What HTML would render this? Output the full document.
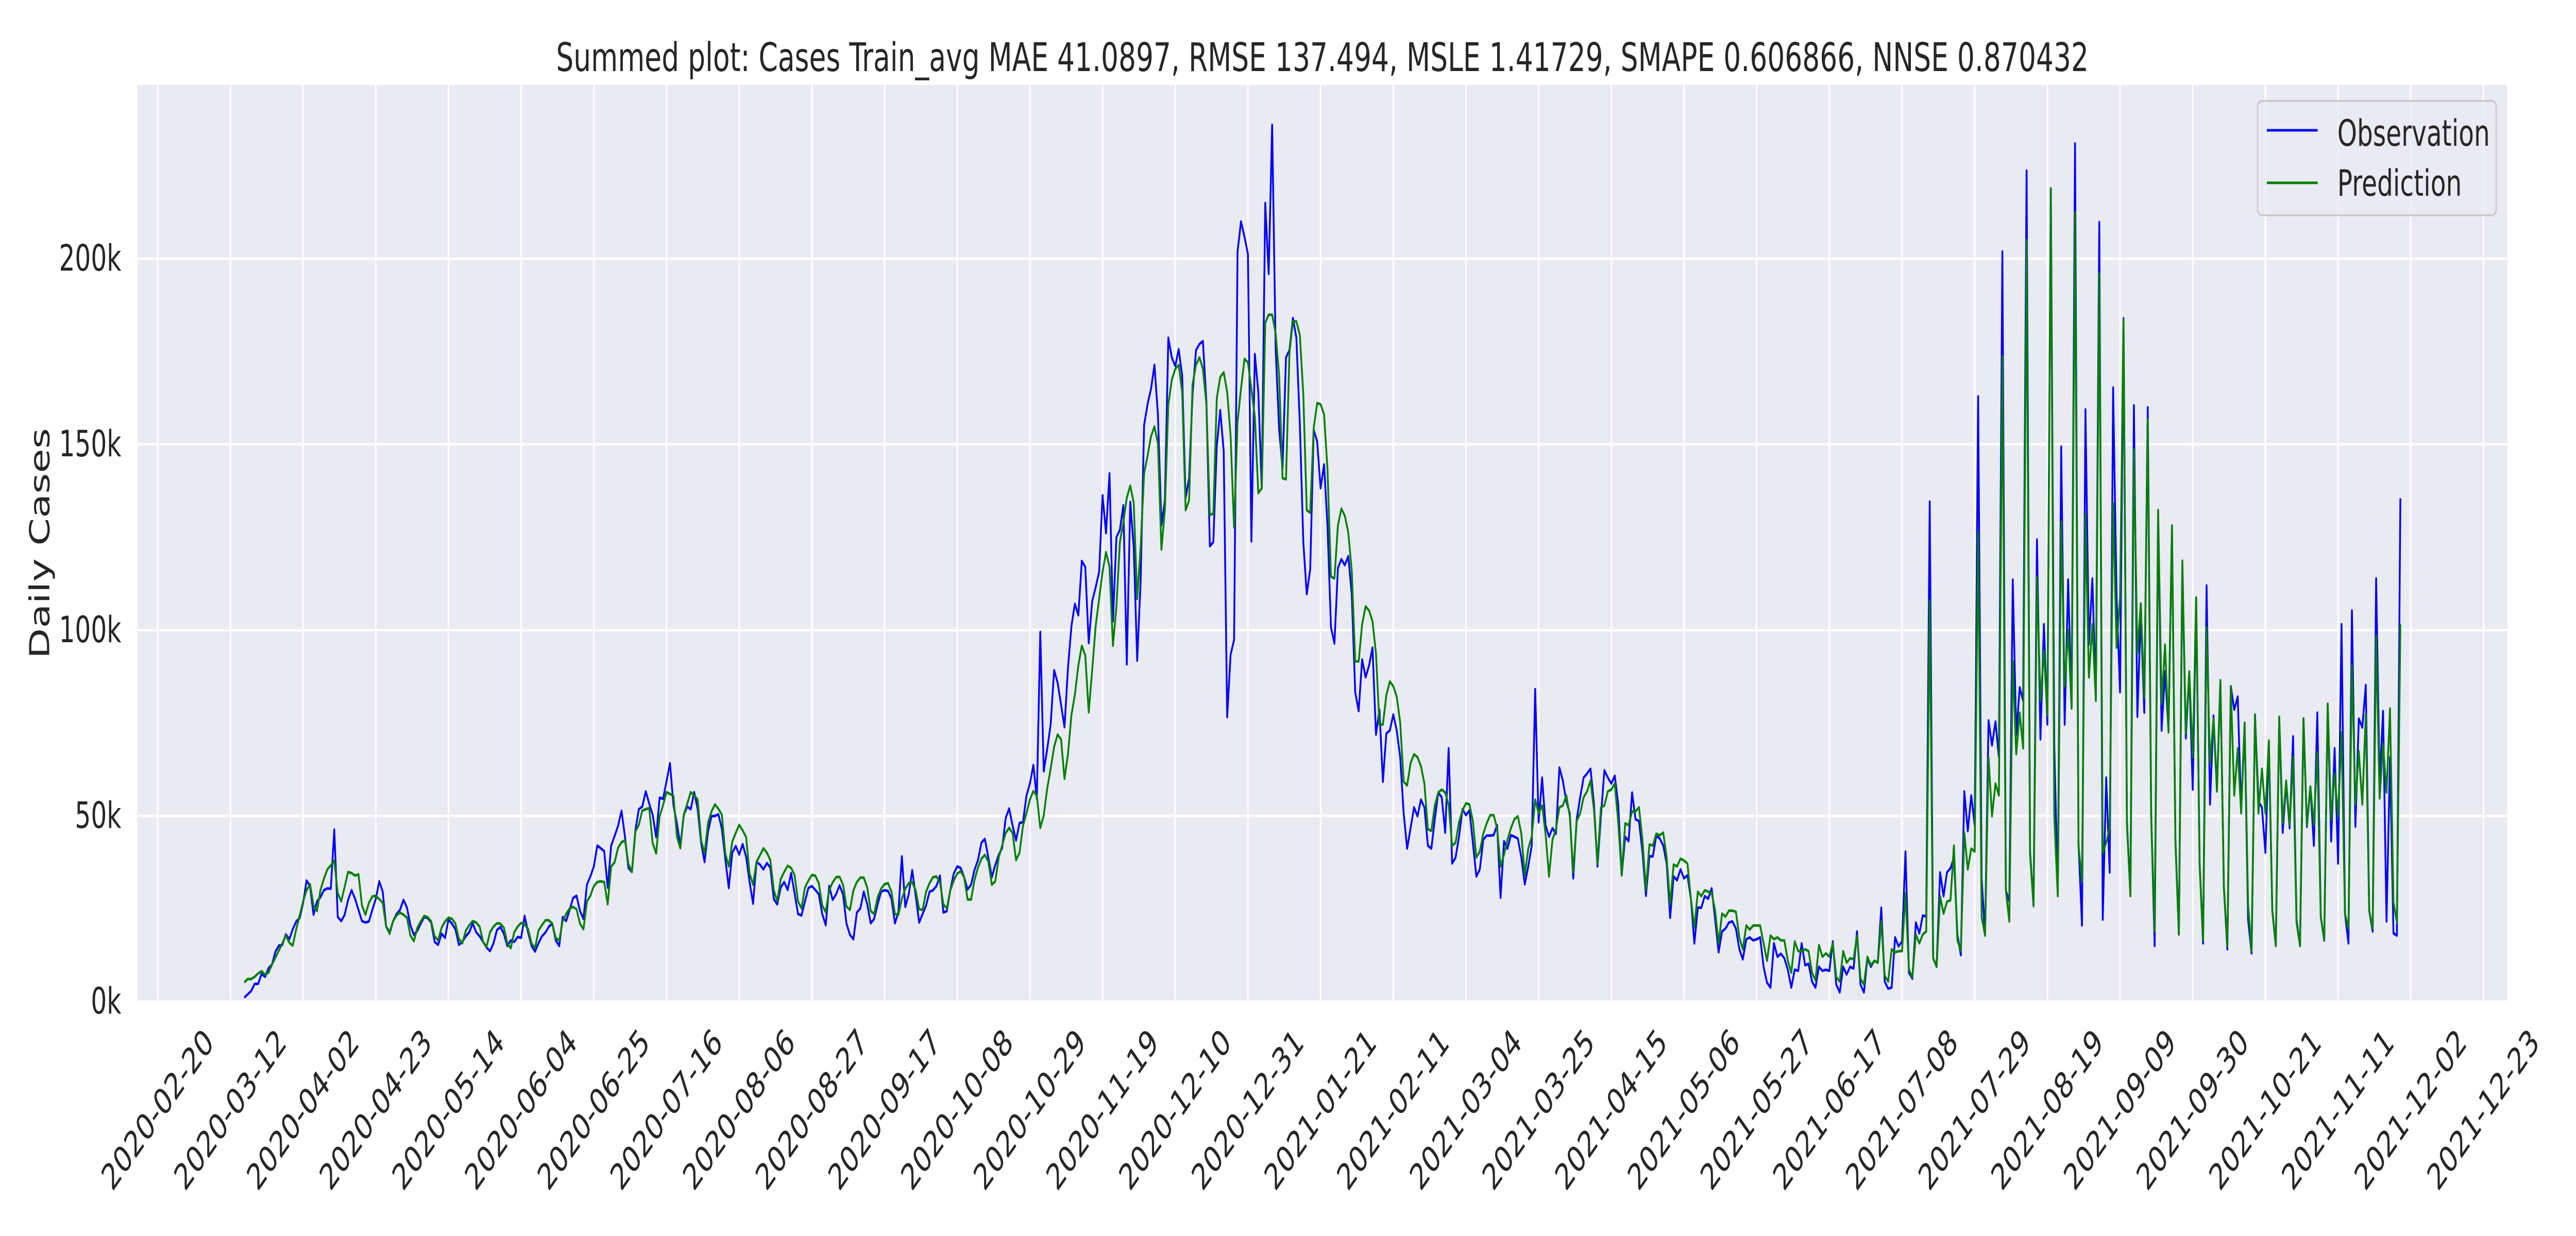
<!DOCTYPE html>
<html><head><meta charset="utf-8"><style>
html,body{margin:0;padding:0;background:#fff;overflow:hidden;width:100%;height:100%;}
svg{display:block;width:100vw;height:100vh;font-family:"DejaVu Sans","Liberation Sans",sans-serif;}
</style></head><body>
<svg id="chart" xmlns="http://www.w3.org/2000/svg" viewBox="0 0 7200 2400" preserveAspectRatio="none">
<rect x="0" y="0" width="7200" height="2400" fill="#ffffff"/>
<rect x="384" y="165" width="6624" height="1780" fill="#eaeaf2"/>
<g id="grid"></g>
<g id="series"></g>
<g id="xticks"></g>
<g id="yticks"></g>
<text x="3696" y="138" text-anchor="middle" font-size="77" fill="#262626">Summed plot: Cases Train_avg MAE 41.0897, RMSE 137.494, MSLE 1.41729, SMAPE 0.606866, NNSE 0.870432</text>
<text x="111" y="1055" text-anchor="middle" dominant-baseline="central" font-size="77" fill="#262626" transform="rotate(-90 111 1055)">Daily Cases</text>
<g>
<rect x="6310" y="196" width="667" height="222" rx="12" fill="#eaeaf2" fill-opacity="0.8" stroke="#cccccc" stroke-width="4"/>
<line x1="6336" y1="253" x2="6478" y2="253" stroke="#0000ff" stroke-width="5"/>
<text x="6533" y="283" font-size="70" fill="#262626">Observation</text>
<line x1="6336" y1="355" x2="6478" y2="355" stroke="#008000" stroke-width="5"/>
<text x="6533" y="380" font-size="70" fill="#262626">Prediction</text>
</g>
</svg>
<script>
const startDate = "2020-03-16";
const yTickValues = [0, 50, 100, 150, 200];
const yTickLabels = ["0k", "50k", "100k", "150k", "200k"];
const xTickLabels = ["2020-02-20","2020-03-12","2020-04-02","2020-04-23","2020-05-14","2020-06-04","2020-06-25","2020-07-16","2020-08-06","2020-08-27","2020-09-17","2020-10-08","2020-10-29","2020-11-19","2020-12-10","2020-12-31","2021-01-21","2021-02-11","2021-03-04","2021-03-25","2021-04-15","2021-05-06","2021-05-27","2021-06-17","2021-07-08","2021-07-29","2021-08-19","2021-09-09","2021-09-30","2021-10-21","2021-11-11","2021-12-02","2021-12-23"];
const observation = [
1.1,2.0,2.9,4.8,4.8,7.5,6.7,9,10,13.5,
15.1,15.3,18.1,16.8,19.5,21.6,22.5,26.6,32.6,31.1,
23.4,27,28.1,30,30.5,30.4,46.3,22.8,21.7,23.4,
27.4,30,27.7,24.7,21.7,21.3,21.6,24.7,27.7,32.4,
29.6,20.2,18.7,21.7,23.6,24.7,27.4,25.3,20.6,18,
19.1,21,22.8,22.5,21.3,16.1,15.3,18.3,17.2,22.1,
21,19.5,15.3,16.1,17.6,18.7,21.1,18.7,17.6,16.1,
14.6,13.6,15.7,19.3,20.1,18.3,15,16.5,16.1,17.4,
17.2,23.1,18.7,15,13.5,15.7,17.6,18.6,20.2,21,
16.5,15,22.8,21.7,24.7,27.9,28.5,24.4,22.3,31.5,
33.7,36.4,42,41.3,
40.5,30.7,42,44.6,47.3,51.4,44.3,36,34.9,46.1,
51.8,52.5,56.6,53.3,50.3,44.3,54.9,54.6,59.3,64.2,
52.9,48,42,50.3,52.5,51.8,56.4,51.8,42.7,37.6,
45.8,49.9,50,50.4,46.5,38.2,30.6,40.1,41.9,39.6,
42.4,39,32.2,26.4,37.6,36.9,35.6,37.3,36.1,27.6,
26.2,30.7,32.2,30.1,34.6,29.2,23.6,23.2,27,30.6,
31.1,30.1,28.9,23.6,20.6,31.1,27.4,28.9,31.3,28.9,
21,18,16.8,24,25.1,29.6,26.2,21.1,22.3,26.2,
29.6,30,29.8,27.7,21.1,24,39.1,25.5,28.9,35.4,
28.5,21.3,23.6,25.9,29.6,30,31.1,33.9,24,24.4,
30,34.5,36.4,36,
33.5,30.2,31.5,35.5,38.1,42.8,43.8,38.8,33.5,36.8,
39.5,41.4,49.4,52,47.4,43.4,48.1,48.3,55.4,58.7,
63.7,54.7,99.5,62,68,74.6,89.2,85.9,79.9,73.9,
89.8,101.1,107.1,104,118.6,117,96.5,107.8,111.5,115.7,
136.3,126.1,142.2,102.4,125,127,133.6,90.8,134.5,122.3,
91.8,113.1,155.2,160.8,165,171.4,157.9,128.3,134.9,178.7,
173.4,171.1,175.6,168.5,135.6,140.9,163.4,175.4,177,177.8,
161.5,122.6,123.7,149.5,159.2,148.2,76.6,93.4,97.4,201.9,
210,205.9,201.2,123.9,174.3,164.1,138.2,215,195.9,236,
176,154.2,143.6,173.4,175.4,184,178.7,155.5,123.7,109.7,
116.4,153.9,150.8,138.2,
144.6,127.9,100.8,96.4,116.7,119.1,117.5,119.9,109.6,83.3,
78.2,92.1,87.3,90.5,95.3,71.9,78.6,59.2,72.2,73,
77.3,73,65.8,50.7,41.2,46.7,52.3,49.9,54.4,52.3,
42,41.2,49.1,56.3,55,45.5,68.2,37.2,38.8,44.4,
51.8,50.2,51.5,42.8,33.7,35.6,43.6,44.7,44.7,44.8,
47.5,28,43.2,41.2,44.8,44.4,43.9,38.8,31.6,36.4,
42,84.1,48.3,60.3,47.5,44.4,46.7,45.2,63,59.5,
53.9,50.7,33.2,49.1,55,60.3,61.4,62.7,53.1,36.4,
49.9,62.3,60.3,58.7,60.8,53.1,34,44.4,43.2,56.3,
49.1,48.6,40.4,28.5,39.1,39.1,44.7,43.9,42,37.2,
22.6,33.7,32.7,35.6,33.2,
34,27.7,15.7,25.3,25.3,28.4,27.7,30.5,22.1,13.3,
18.9,19.7,21.3,21.6,19.7,14.1,11.4,16.8,17.3,16.5,
16.8,17.3,9.4,5.1,3.8,15.7,12.1,12.9,11.7,8.6,
3.8,8.6,8.3,15.7,9.8,10.2,5.4,3.8,9.4,8.3,
8.6,8.3,16.2,4.6,2.5,9.4,7.3,9.4,8.9,18.9,
4.6,2.5,11.7,9.4,11,10.5,25.3,5.4,3.5,3.8,
17.3,14.9,16.2,40.4,7.8,6.2,21.3,18.4,23.2,22.9,
134.6,11.7,9.4,34.8,28.4,34.8,35.9,38.8,18.1,12.5,
56.6,45.9,55.5,47.5,162.9,33.2,18.1,75.7,69,75.4,
65.8,201.9,30,26.9,113.6,71.9,84.6,81,223.7,40.4,
26.1,124.4,70.6,101.6,
74.6,218.9,69,29.2,149.4,74.6,113.6,79.4,231,42.8,
20.5,159.4,96.1,113.9,81.7,209.8,22.1,60.3,34.8,165.3,
108.8,83.3,183.9,48.3,29.2,160.5,76.7,104.8,77.8,160,
50.7,15,131.1,73,88.9,73,127.1,43.6,18.1,117.5,
70.9,88.4,57.1,108,37.2,15.7,112,53.1,77,57.1,
86.5,30.8,14.1,84.9,78.6,82.1,51.5,74.6,22.1,13,
77,53.9,52.3,40.1,69.8,24.5,15,76.2,45.5,58.7,
46.7,71.4,22.1,15,76.2,47.1,57.9,42,77.8,22.9,
16.5,80.2,43.2,68.2,37.2,101.6,23.7,15.7,105.3,47.1,
76.2,73.8,85.2,24.5,18.9,113.9,58.7,78.2,21.6,65.8,
18.4,17.8,135.5];
const prediction = [
5.2,6.1,6.1,6.7,7.6,8.2,7.3,7.8,10,11.9,
13.8,15.7,17.8,15.9,15.1,19.5,23.2,27,30,31.6,
25.9,24.4,30,33.1,35.6,36.7,37.9,29.2,27,30.9,
34.9,34.6,33.9,34.3,25.9,23.4,26.6,28.3,28.5,27.6,
26.6,20.2,18.3,21.7,23.2,24,23.4,22.6,17.8,16.3,
19.9,21.6,23.1,22.7,21.6,17.6,16.5,19.9,21.6,22.6,
22.3,21,16.9,15.7,19.1,20.6,21.7,21.3,20.2,16.1,
14.8,18.7,20.2,21.1,21,19.9,15.7,14.4,18.7,20.2,
21.2,20.8,19.6,15.7,14.4,19.1,20.6,21.9,21.9,21,
17.1,16.5,21.7,23.6,25.1,25.5,24.9,21,19.5,27,
28.5,31.1,32.2,32.4,
32.2,26.2,36.4,37.5,41.4,42.9,43.4,37.1,34.9,45.8,
47.6,51.4,51.8,52.1,42.7,39.9,49.9,52.9,56.4,55.9,
55.4,44.4,41.3,50.4,53.3,56.4,55.5,54.4,43.5,39.9,
48.2,51.2,53.1,51.9,50.3,39.8,36.4,43.1,45.4,47.6,
46.1,44.3,34.5,31.5,37.6,39.4,41.3,40.1,38.1,30,
27,33,34.9,36.6,36,34.1,27,25.1,30.7,32.6,
34.1,33.9,31.9,25.9,24.1,30,32.1,33.5,33.6,31.5,
25.6,24.7,30,32.2,33.4,33.4,30.7,24.4,23.6,28.1,
30.4,31.6,31.9,29.6,23.6,23.4,27.7,30.4,31.9,32.1,
30,24.9,24.7,29.6,31.9,33.5,33.7,32.2,26.2,25.1,
30,32.6,34.5,35.1,
33.5,27.5,27.5,32.8,36.1,38.5,39.5,37.7,31.5,32.4,
38.8,42.1,45.4,46.8,45.4,38.1,40.1,47.4,50.7,54.4,
56.7,55.4,46.8,50.1,57.4,62.7,68.6,71.9,70.6,60,
66.6,77.2,82.6,90.5,95.8,93.2,77.9,89.2,101.1,108.4,
115.7,121,117,95.8,106.4,123.7,129,135.6,138.9,134.3,
108.4,122.3,142.2,146.9,152.2,154.8,150.2,121.7,132.3,160.8,
167.4,170.3,171.4,164.1,132.3,134.9,166.1,171.4,173.4,170.3,
160.8,131,131.4,162.4,168.1,169.4,164.1,152.2,127.6,156.1,
165,173,172.1,164.8,157.5,136.9,138.2,182.7,184.9,184.9,
180,168.7,140.9,140.6,174.7,183.1,183.1,179.4,163.4,132.3,
131.6,154.4,161.1,160.8,
158.1,143,114.4,113.9,128.2,132.7,130.8,126.3,116,91.6,
91.6,101.6,106.4,105.3,102.4,93.7,74.6,74.6,82.5,86.2,
84.9,82.1,75.1,59.2,58.2,64.2,66.6,65.8,63.4,58.7,
46.4,46,52.8,56.3,57.1,56.3,53.1,42,42.8,48.3,
51.5,53.4,53.1,48.6,38.8,40.4,45.2,48,50.2,50.2,
46.7,36.4,39.6,43.6,46.7,49.1,49.9,45.2,34,41.2,
44.4,54.4,50.7,52.8,45.2,33.7,43.6,46.4,52.3,52.8,
55.5,49.9,34.8,48.6,50.7,55,56.6,59.5,51.5,37.2,
52.3,52.8,56.6,57.1,58.7,48.3,34,48,47.5,51.2,
51.2,52.3,43.6,30,42.3,42,45.2,44.8,45.5,38.8,
26.1,36.9,36.4,38.5,38,
37.2,27.7,20,29.6,28.4,30,29.6,29.2,24.5,15.7,
23.7,22.9,24.5,24.5,24.2,17.3,14.1,20.5,19.4,20.5,
20.5,20.5,15.7,11,17.8,16.8,17.3,16.5,16.5,11,
7.8,16.2,13.6,13.6,14.1,13.6,7.8,5.7,15.2,12.1,
13,12.1,15.7,6.6,5.4,13.6,10.5,11.7,11.4,17.8,
6.2,4.6,12.1,9.8,11,10.5,21.6,7,5.4,14.1,
13.3,13.6,13.6,29.2,8.6,6.6,18.1,15.7,18.1,18.9,
108,11.7,9.4,28.4,23.7,26.9,27.3,42,16.5,13.6,
45.5,35.6,41.2,40.4,126.3,22.9,17.8,65.8,49.9,58.7,
55.5,173.7,30,21.6,91.6,66.6,77.8,68.2,205,39.6,
25.7,114.4,81,94.5,
77,218.9,49.9,28.4,129.2,84.9,100,78.9,212.5,42,
32.4,131.1,87.3,101.6,81,196,40.1,42.8,46.7,134.2,
95.3,108.8,183.6,47.5,28.4,148.6,93.7,107.2,81.7,156.8,
49.9,18.9,132.3,80.2,96.1,72.5,128.2,42.8,18.1,118.7,
72.2,88.9,65.8,108.8,36.4,16.5,100.8,64.2,76.2,56.6,
86.5,30.8,15,84.9,55.5,68.2,50.7,75.1,26.1,13.6,
77.3,50.7,62.7,50.7,70.3,24.5,15,76.7,48,59.5,
47.5,65.8,21.3,15,76.2,47.5,57.9,47.5,67.1,22.9,
16.8,80.2,49.1,61.4,49.9,72.5,23.7,19.7,90.5,53.1,
67.4,53.1,77.3,24.5,19.7,98.4,54.7,69.3,56.3,78.9,
26.9,21.3,101.6];

const NS = "http://www.w3.org/2000/svg";
const PL = 384, PR = 7008, PT = 165, PB = 1945;
const DAY_MS = 86400000;
const refTime = Date.UTC(2020, 1, 20);
const PX_PER_DAY = 9.673, REF_X = 441;
const YMAX = (PB - PT) / 7.214;
function dayNum(s){ const p = s.split("-"); return (Date.UTC(+p[0], +p[1]-1, +p[2]) - refTime) / DAY_MS; }
function xScale(d){ return REF_X + d * PX_PER_DAY; }
function yScale(v){ return PB - v / YMAX * (PB - PT); }
function mk(tag, attrs, parent){ const el = document.createElementNS(NS, tag); for (const k in attrs) el.setAttribute(k, attrs[k]); parent.appendChild(el); return el; }

const grid = document.getElementById("grid");
const xt = document.getElementById("xticks");
const yt = document.getElementById("yticks");
const ser = document.getElementById("series");

yTickValues.forEach((v, i) => {
  const y = yScale(v);
  const gl = mk("line", {x1: PL, x2: PR, y1: y, y2: y, stroke: "#ffffff", "stroke-width": 4.5}, grid);
  
  
  const t = mk("text", {x: 339, y: y, "text-anchor": "end", "dominant-baseline": "central", "font-size": 70, fill: "#262626"}, yt);
  
  
  t.textContent = yTickLabels[i];
});

xTickLabels.forEach((lab) => {
  const x = xScale(dayNum(lab));
  const gl = mk("line", {x1: x, x2: x, y1: PT, y2: PB, stroke: "#ffffff", "stroke-width": 4.5}, grid);
  
  
  const cy = 2155;
  const t = mk("text", {x: x, y: cy, "text-anchor": "middle", "dominant-baseline": "central", "font-size": 70, fill: "#262626", transform: "rotate(-45 " + x + " " + cy + ")"}, xt);
  
  
  t.textContent = lab;
});

const d0 = dayNum(startDate);
function pathFor(arr){
  return arr.map((v, i) => (i ? "L" : "M") + xScale(d0 + i).toFixed(1) + " " + yScale(v).toFixed(1)).join(" ");
}
const obsPath = mk("path", {d: pathFor(observation), fill: "none", stroke: "#0000ff", "stroke-width": 5, "stroke-linejoin": "round"}, ser);


const predPath = mk("path", {d: pathFor(prediction), fill: "none", stroke: "#008000", "stroke-width": 5, "stroke-linejoin": "round"}, ser);


</script>
</body></html>
